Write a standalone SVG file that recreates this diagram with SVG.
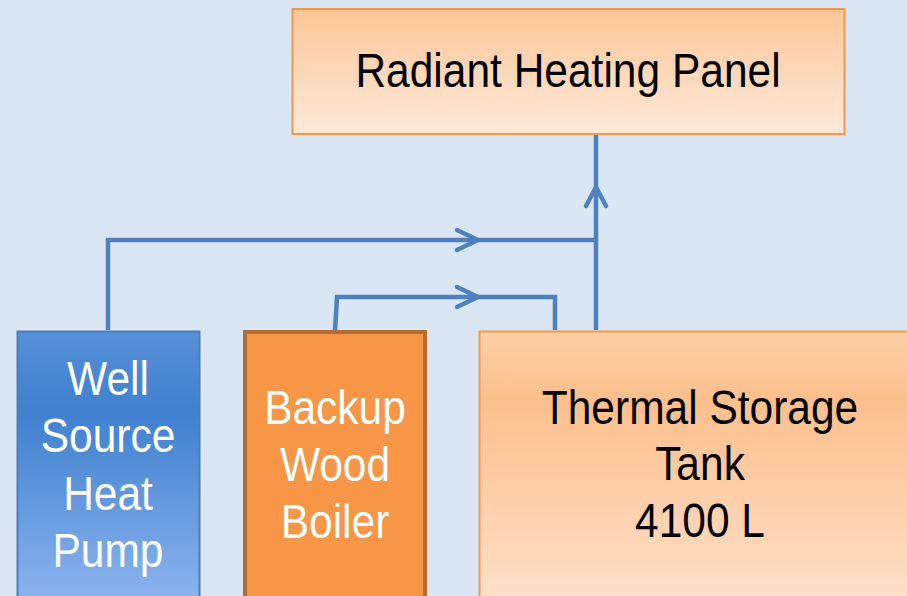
<svg xmlns="http://www.w3.org/2000/svg" width="907" height="596" viewBox="0 0 907 596">
<defs>
<linearGradient id="gPanel" x1="0" y1="0" x2="0" y2="1">
<stop offset="0" stop-color="#fdc697"/>
<stop offset="1" stop-color="#fde9da"/>
</linearGradient>
<linearGradient id="gTank" x1="0" y1="0" x2="0" y2="1">
<stop offset="0" stop-color="#fdd0a8"/>
<stop offset="0.25" stop-color="#fcbf8c"/>
<stop offset="1" stop-color="#fee0c9"/>
</linearGradient>
<linearGradient id="gPump" x1="0" y1="0" x2="0" y2="1">
<stop offset="0" stop-color="#5790d8"/>
<stop offset="0.3" stop-color="#3f80cf"/>
<stop offset="1" stop-color="#8cb4ee"/>
</linearGradient>
</defs>
<style>
.lbl{font-family:"Liberation Sans",Arial,sans-serif;font-size:42.5px;text-anchor:middle}
.w{fill:#ffffff}
.k{fill:#000000}
.conn{fill:none;stroke:#4f81bd;stroke-width:4.5}
.head{fill:none;stroke:#4f81bd;stroke-width:4.5;stroke-linecap:round;stroke-linejoin:round}
</style>
<rect x="0" y="0" width="907" height="596" fill="#dae6f4"/>
<g id="connectors">
<path class="conn" d="M108,330 V240 H478"/>
<path class="conn" d="M478,240 H596"/>
<path class="conn" d="M335,330 L337,297 H478"/>
<path class="conn" d="M478,297 H555 V330"/>
<path class="conn" d="M596,330 V134"/>
<path class="head" d="M457,230 L478,240 L457,250"/>
<path class="head" d="M457,287 L478,297 L457,307"/>
<path class="head" d="M586,206 L596,187 L606,206"/>
</g>
<g id="panel">
<rect x="292.5" y="9" width="552" height="125" fill="url(#gPanel)" stroke="#f79646" stroke-width="2"/>
<text class="lbl k" transform="translate(568,87) scale(1,1.12)">Radiant Heating Panel</text>
</g>
<g id="pump">
<rect x="17.5" y="331.5" width="182" height="270" fill="url(#gPump)" stroke="#4a7ebb" stroke-width="2"/>
<text class="lbl w" transform="translate(108,395) scale(1,1.12)">Well</text>
<text class="lbl w" transform="translate(108,452) scale(1,1.12)">Source</text>
<text class="lbl w" transform="translate(108,510) scale(1,1.12)">Heat</text>
<text class="lbl w" transform="translate(108,567) scale(1,1.12)">Pump</text>
</g>
<g id="boiler">
<rect x="245" y="332" width="180" height="270" fill="#f79646" stroke="#b66d31" stroke-width="4"/>
<text class="lbl w" transform="translate(335,424) scale(1,1.12)">Backup</text>
<text class="lbl w" transform="translate(335,481) scale(1,1.12)">Wood</text>
<text class="lbl w" transform="translate(335,538) scale(1,1.12)">Boiler</text>
</g>
<g id="tank">
<rect x="479.5" y="331.5" width="440" height="270" fill="url(#gTank)" stroke="#f79646" stroke-width="2"/>
<text class="lbl k" transform="translate(700,424) scale(1,1.12)">Thermal Storage</text>
<text class="lbl k" transform="translate(700,480) scale(1,1.12)">Tank</text>
<text class="lbl k" transform="translate(700,537) scale(1,1.12)">4100 L</text>
</g>
</svg>
